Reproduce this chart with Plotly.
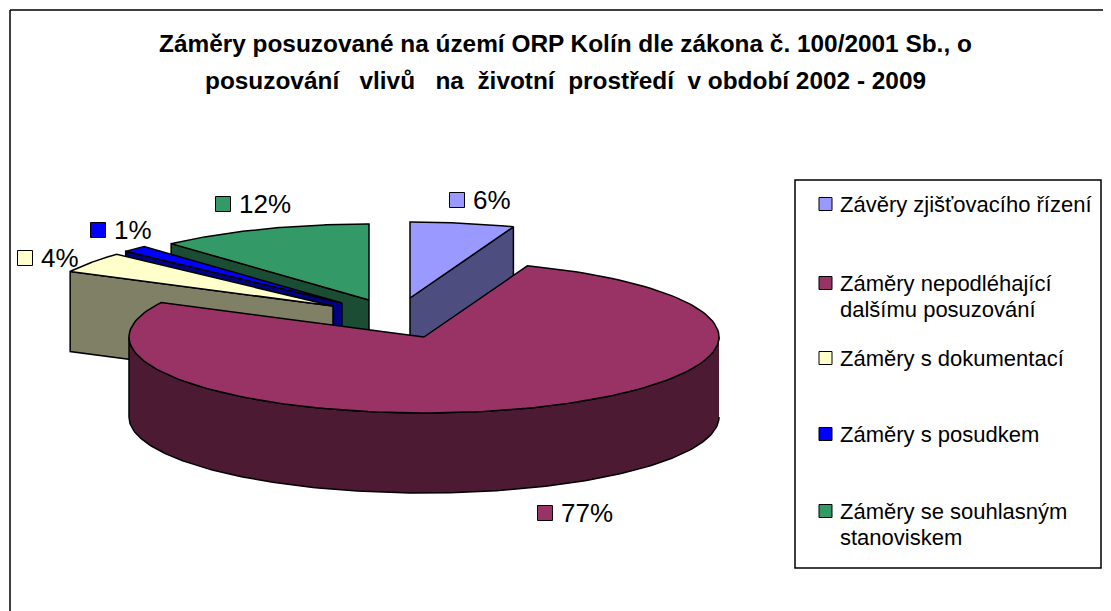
import numpy as np
import plotly.graph_objects as go

# Values (share of each slice, percent)
categories = [
    "Závěry zjišťovacího řízení",
    "Záměry nepodléhající<br>dalšímu posuzování",
    "Záměry s dokumentací",
    "Záměry s posudkem",
    "Záměry se souhlasným<br>stanoviskem",
]
values = [5.7, 76.8, 4.4, 1.4, 11.7]
pct_labels = ["6%", "77%", "4%", "1%", "12%"]

top_colors = ["#9999FF", "#993366", "#FFFFCC", "#0000FF", "#339966"]
side_colors = ["#4D4D80", "#4D1A33", "#808066", "#000080", "#1A4D33"]

title_lines = [
    "Záměry posuzované na území ORP Kolín dle zákona č. 100/2001 Sb., o",
    "posuzování\u00a0\u00a0 vlivů\u00a0\u00a0 na\u00a0 životní\u00a0 prostředí\u00a0 v období 2002 - 2009",
]

# Pie geometry in page pixels
RX, RY, DEPTH = 295, 76, 80
apex = [(410, 298), (424, 337), (333, 306), (342, 303), (369, 300)]
pct_pos = [(457, 200), (545, 513), (25, 258), (98, 230), (223, 204)]
legend_y = [204, 283, 358, 434, 511]
LEGEND_LINE = 26

# the browser page has an 8px body margin, so the figure starts there
PAGE_MARGIN = 8

fig = go.Figure()


def poly(xs, ys, color):
    fig.add_trace(go.Scatter(
        x=xs, y=ys, mode="lines", fill="toself", fillcolor=color,
        line=dict(color="black", width=1.5), hoverinfo="skip", showlegend=False,
    ))


def rim(cx, cy, a0, a1):
    a = np.radians(np.linspace(a0, a1, 160))
    return cx + RX * np.sin(a), cy - RY * np.cos(a)


# Slice angles come from the values, clockwise from twelve o'clock
edges = np.cumsum([0] + values) / sum(values) * 360

# Back slices first, the big front slice last
for i in [0, 4, 3, 2, 1]:
    cx, cy = apex[i]
    a0, a1 = edges[i], edges[i + 1]
    rx, ry = rim(cx, cy, a0, a1)
    if i == 1:
        # outer wall of the front slice, right extreme round to left extreme
        wx, wy = rim(cx, cy, 90, 270)
        poly(np.r_[wx, wx[::-1]], np.r_[wy, wy[::-1] + DEPTH], side_colors[i])
    else:
        # cut face: the radial edge turned towards the viewer
        ex, ey = (rx[-1], ry[-1]) if i == 0 else (rx[0], ry[0])
        poly([cx, ex, ex, cx, cx], [cy, ey, ey + DEPTH, cy + DEPTH, cy], side_colors[i])
    poly(np.r_[cx, rx, cx], np.r_[cy, ry, cy], top_colors[i])

# Percent labels with their keys
fig.add_trace(go.Scatter(
    x=[p[0] for p in pct_pos], y=[p[1] for p in pct_pos], mode="markers",
    marker=dict(symbol="square", size=15, color=top_colors, line=dict(color="black", width=1)),
    hoverinfo="skip", showlegend=False,
))
for (px, py), label in zip(pct_pos, pct_labels):
    fig.add_annotation(x=px + 14, y=py, text=label, showarrow=False, xanchor="left",
                       font=dict(size=26, color="black"))

# Legend, wrapped names placed line by line
fig.add_trace(go.Scatter(
    x=[825.5] * len(legend_y), y=legend_y, mode="markers",
    marker=dict(symbol="square", size=13, color=top_colors, line=dict(color="black", width=1)),
    hoverinfo="skip", showlegend=False,
))
for ly, name in zip(legend_y, categories):
    for n, part in enumerate(name.split("<br>")):
        fig.add_annotation(x=838, y=ly + n * LEGEND_LINE, text=part, showarrow=False,
                           xanchor="left", font=dict(size=22, color="black"))

for ty, line in zip([43, 80], title_lines):
    fig.add_annotation(x=565.5, y=ty, text=f"<b>{line}</b>", showarrow=False,
                       font=dict(size=24.4, color="black", family="Liberation Sans"))

fig.update_layout(
    width=1111 - PAGE_MARGIN, height=611 - PAGE_MARGIN,
    margin=dict(l=0, r=0, t=0, b=0),
    paper_bgcolor="white", plot_bgcolor="white",
    font=dict(family="Liberation Sans"),
    xaxis=dict(range=[PAGE_MARGIN, 1111], visible=False, fixedrange=True),
    yaxis=dict(range=[611, PAGE_MARGIN], visible=False, fixedrange=True),
    shapes=[
        dict(type="line", x0=10, y0=10, x1=10, y1=611, line=dict(color="black", width=1.5)),
        dict(type="line", x0=10, y0=10, x1=1111, y1=10, line=dict(color="black", width=1.5)),
        dict(type="rect", x0=795, y0=180, x1=1101, y1=568, line=dict(color="black", width=1.5)),
    ],
)

fig.write_html("out.html")
